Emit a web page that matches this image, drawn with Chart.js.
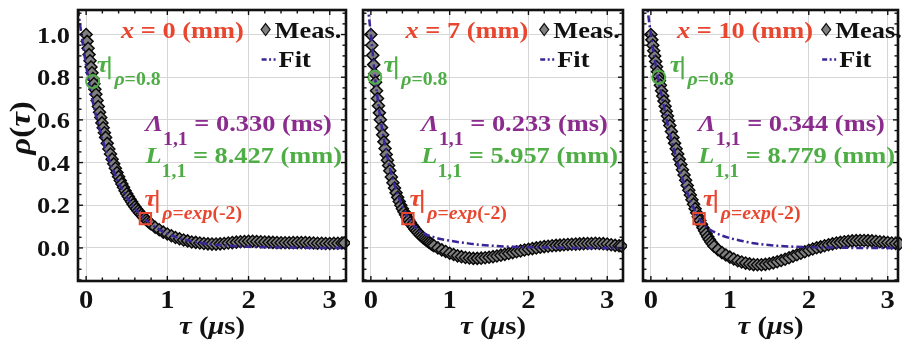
<!DOCTYPE html>
<html lang="en">
<head>
<meta charset="UTF-8">
<title>rho(tau) - três posições</title>
<script src="https://cdn.jsdelivr.net/npm/chart.js"></script>
<style>
    html, body { margin: 0; padding: 0; background: #fff; }
    body { width: 908px; height: 340px; position: relative; overflow: hidden; }
    .painel { position: absolute; top: 0; height: 340px; }
</style>
</head>
<body>
<div class="painel" style="left:0;width:356px"><canvas id="g1"></canvas></div>
<div class="painel" style="left:353px;width:280px"><canvas id="g2"></canvas></div>
<div class="painel" style="left:633px;width:275px"><canvas id="g3"></canvas></div>

<script>
// τ (μs) das medidas, comum aos três painéis
const tau = [0, 0.012, 0.024, 0.036, 0.048, 0.06, 0.072, 0.084, 0.096, 0.108,
    0.12, 0.135, 0.15, 0.165, 0.18, 0.195, 0.21, 0.225, 0.24, 0.26,
    0.28, 0.3, 0.32, 0.34, 0.36, 0.38, 0.4, 0.42, 0.44, 0.46,
    0.48, 0.5, 0.52, 0.54, 0.56, 0.58, 0.6, 0.62, 0.64, 0.66,
    0.68, 0.7, 0.72, 0.74, 0.76, 0.78,
    0.8, 0.85, 0.9, 0.95, 1.0, 1.05, 1.1, 1.15, 1.2, 1.25,
    1.3, 1.35, 1.4, 1.45, 1.5, 1.55, 1.6, 1.65, 1.7, 1.75,
    1.8, 1.85, 1.9, 1.95, 2.0, 2.05, 2.1, 2.15, 2.2, 2.25,
    2.3, 2.35, 2.4, 2.45, 2.5, 2.55, 2.6, 2.65, 2.7, 2.75,
    2.8, 2.85, 2.9, 2.95, 3.0, 3.05, 3.1, 3.15, 3.18];

// medidas (Meas.) x = 0, 7, 10 mm
const meas1 = [1.000, 0.968, 0.936, 0.906, 0.877, 0.848, 0.821, 0.794, 0.769, 0.744,
    0.720, 0.691, 0.663, 0.636, 0.611, 0.586, 0.563, 0.540, 0.518, 0.490,
    0.464, 0.440, 0.416, 0.394, 0.373, 0.353, 0.334, 0.316, 0.300, 0.284,
    0.268, 0.254, 0.241, 0.228, 0.216, 0.204, 0.193, 0.183, 0.173, 0.164,
    0.155, 0.147, 0.139, 0.132, 0.125, 0.118,
    0.112, 0.097, 0.085, 0.074, 0.065, 0.057, 0.049, 0.043, 0.037, 0.033,
    0.028, 0.026, 0.023, 0.021, 0.019, 0.018, 0.018, 0.019, 0.021, 0.023,
    0.025, 0.027, 0.029, 0.030, 0.031, 0.031, 0.030, 0.029, 0.028, 0.027,
    0.026, 0.025, 0.024, 0.024, 0.024, 0.025, 0.025, 0.025, 0.025, 0.024,
    0.023, 0.022, 0.022, 0.021, 0.021, 0.022, 0.022, 0.023, 0.023];
const meas2 = [1.000, 0.950, 0.903, 0.859, 0.816, 0.776, 0.737, 0.700, 0.666, 0.633,
    0.601, 0.564, 0.530, 0.497, 0.466, 0.438, 0.411, 0.386, 0.362, 0.332,
    0.305, 0.281, 0.258, 0.237, 0.218, 0.200, 0.184, 0.169, 0.155, 0.142,
    0.131, 0.119, 0.108, 0.098, 0.088, 0.079, 0.071, 0.063, 0.056, 0.049,
    0.043, 0.037, 0.031, 0.026, 0.021, 0.015,
    0.010, 0.000, -0.009, -0.017, -0.025, -0.031, -0.037, -0.041, -0.045, -0.047,
    -0.049, -0.049, -0.048, -0.046, -0.044, -0.041, -0.038, -0.034, -0.030, -0.026,
    -0.022, -0.018, -0.014, -0.010, -0.006, -0.003, 0.000, 0.003, 0.006, 0.008,
    0.010, 0.012, 0.013, 0.015, 0.016, 0.017, 0.018, 0.019, 0.020, 0.021,
    0.021, 0.022, 0.021, 0.020, 0.018, 0.015, 0.012, 0.010, 0.009];
const meas3 = [1.000, 0.975, 0.950, 0.924, 0.899, 0.874, 0.849, 0.826, 0.804, 0.783,
    0.762, 0.737, 0.712, 0.688, 0.664, 0.641, 0.618, 0.596, 0.574, 0.546,
    0.518, 0.491, 0.465, 0.440, 0.415, 0.391, 0.366, 0.342, 0.317, 0.293,
    0.270, 0.248, 0.226, 0.205, 0.184, 0.165, 0.146, 0.128, 0.111, 0.095,
    0.080, 0.066, 0.052, 0.040, 0.028, 0.018,
    0.008, -0.008, -0.022, -0.033, -0.043, -0.052, -0.060, -0.066, -0.071, -0.075,
    -0.078, -0.079, -0.079, -0.077, -0.074, -0.070, -0.065, -0.059, -0.053, -0.046,
    -0.039, -0.032, -0.025, -0.018, -0.011, -0.005, 0.001, 0.005, 0.010, 0.015,
    0.019, 0.023, 0.026, 0.029, 0.031, 0.033, 0.034, 0.035, 0.035, 0.034,
    0.033, 0.031, 0.029, 0.027, 0.025, 0.023, 0.021, 0.020, 0.019];

// curva de ajuste (Fit)
const tauFit = [-0.1, -0.05, 0, 0.05, 0.1, 0.15, 0.2, 0.25, 0.3, 0.35, 0.4, 0.45, 0.5, 0.55, 0.6, 0.65, 0.7,
    0.8, 0.9, 1.0, 1.1, 1.2, 1.3, 1.4, 1.6, 1.8, 2.0, 2.2, 2.4, 2.6, 2.8, 3.0, 3.2];
const fit1 = [1.12, 0.98, 0.855, 0.745, 0.652, 0.58, 0.51, 0.45, 0.395, 0.35, 0.305, 0.27, 0.238, 0.21, 0.185, 0.163, 0.143,
    0.111, 0.087, 0.067, 0.052, 0.04, 0.031, 0.024, 0.015, 0.009, 0.005, 0.003, 0.002, 0.001, 0, 0, 0];
const fit2 = [1.35, 1.17, 1.0, 0.81, 0.66, 0.54, 0.44, 0.36, 0.295, 0.24, 0.195, 0.155, 0.125, 0.102, 0.085, 0.072, 0.063,
    0.05, 0.041, 0.034, 0.028, 0.023, 0.018, 0.014, 0.009, 0.005, 0.003, 0.002, 0.001, 0, 0, 0, 0];
const fit3 = [1.3, 1.14, 1.0, 0.88, 0.78, 0.69, 0.6, 0.52, 0.45, 0.385, 0.325, 0.27, 0.222, 0.18, 0.145, 0.118, 0.098,
    0.075, 0.058, 0.046, 0.037, 0.029, 0.022, 0.017, 0.01, 0.006, 0.003, 0.002, 0.001, 0, 0, 0, 0];

// pontos marcados: τ|ρ=0.8 e τ|ρ=exp(-2)
const marcaCirculo = [[0.08, 0.78], [0.05, 0.80], [0.10, 0.80]];
const marcaQuadrado = [[0.73, 0.137], [0.47, 0.137], [0.61, 0.137]];

const posicoes = ['0', '7', '10'];
const lambdas = ['0.330', '0.233', '0.344'];
const comprimentos = ['8.427', '5.957', '8.779'];

const cores = { vermelho: '#e8462f', verde: '#4eae45', roxo: '#8b2b8e', ajuste: '#3a2497' };
const SERIF = '"Liberation Serif", "Times New Roman", serif';
const ESTICA = 1.1;
const B24 = 'bold 24px ' + SERIF, I24 = 'italic bold 24px ' + SERIF;
const B18 = 'bold 18px ' + SERIF, I18 = 'italic bold 18px ' + SERIF;
const B26 = 'bold 26px ' + SERIF, I26 = 'italic bold 26px ' + SERIF;
const B30 = 'bold 30px ' + SERIF, I30 = 'italic bold 30px ' + SERIF;

const seg = (t, f, c, dy) => ({ t, f, c, dy });

// escreve texto com trechos de fontes diferentes (itálico, subscrito)
function escreve(ctx, x, y, partes, alinhar, rot) {
    ctx.save();
    ctx.translate(x, y);
    if (rot) ctx.rotate(rot);
    ctx.scale(ESTICA, 1);
    let total = 0;
    partes.forEach(p => { ctx.font = p.f; total += ctx.measureText(p.t).width; });
    let cx = alinhar === 'center' ? -total / 2 : (alinhar === 'right' ? -total : 0);
    ctx.textAlign = 'left';
    ctx.textBaseline = 'alphabetic';
    partes.forEach(p => {
        ctx.font = p.f;
        ctx.fillStyle = p.c;
        ctx.fillText(p.t, cx, p.dy || 0);
        cx += ctx.measureText(p.t).width;
    });
    ctx.restore();
    return total * ESTICA;
}

function rotuloTau(ctx, px, py, sub, cor) {
    const w = escreve(ctx, px, py, [seg('τ', I24, cor)]);
    const bx = px + w + 1;
    ctx.save();
    ctx.strokeStyle = cor;
    ctx.lineWidth = 2.2;
    ctx.beginPath();
    ctx.moveTo(bx, py - 16);
    ctx.lineTo(bx, py + 7);
    ctx.stroke();
    ctx.restore();
    escreve(ctx, bx + 5, py + 13, sub);
}

// moldura, ticks internos, rótulos e anotações
const moldura = {
    id: 'moldura',
    afterDatasetsDraw(chart, args, o) {
        const { ctx, chartArea: a, scales: { x, y } } = chart;
        const i = o.indice;
        ctx.save();
        ctx.strokeStyle = '#111';
        ctx.lineWidth = 1.4;
        const traco = (x1, y1, x2, y2) => { ctx.beginPath(); ctx.moveTo(x1, y1); ctx.lineTo(x2, y2); ctx.stroke(); };
        for (let k = Math.ceil(x.min / 0.2); k * 0.2 <= x.max + 1e-9; k++) {
            const px = x.getPixelForValue(k * 0.2);
            const n = k % 5 === 0 ? 5 : 3.5;
            traco(px, a.bottom, px, a.bottom - n);
            traco(px, a.top, px, a.top + n);
        }
        for (let k = Math.ceil(y.min / 0.05); k * 0.05 <= y.max + 1e-9; k++) {
            const py = y.getPixelForValue(k * 0.05);
            const n = k % 4 === 0 ? 5 : 3.5;
            traco(a.left, py, a.left + n, py);
            traco(a.right, py, a.right - n, py);
        }
        ctx.lineWidth = 2.6;
        ctx.strokeRect(a.left, a.top, a.right - a.left, a.bottom - a.top);
        ctx.restore();

        // rótulos dos eixos
        x.ticks.forEach(t => {
            escreve(ctx, x.getPixelForValue(t.value), 308, [seg(String(t.value), B26, '#111')], 'center');
        });
        escreve(ctx, (a.left + a.right) / 2, 334,
            [seg('τ', I26, '#111'), seg(' (', B26, '#111'), seg('μ', I26, '#111'), seg('s)', B26, '#111')], 'center');
        if (o.eixoY) {
            y.ticks.forEach(t => {
                escreve(ctx, a.left - 8, y.getPixelForValue(t.value) + 8, [seg(t.value.toFixed(1), B24, '#111')], 'right');
            });
            escreve(ctx, 30, 128, [seg('ρ', I30, '#111'), seg('(', B30, '#111'), seg('τ', I30, '#111'), seg(')', B30, '#111')],
                'center', -Math.PI / 2);
        }

        // título do painel e legenda
        const p = o.pos;
        escreve(ctx, x.getPixelForValue(p.titulo), y.getPixelForValue(0.986),
            [seg('x', I24, cores.vermelho), seg(' = ' + posicoes[i] + ' (mm)', B24, cores.vermelho)]);
        const ly = y.getPixelForValue(0.986);
        const lx = x.getPixelForValue(p.legenda);
        ctx.save();
        ctx.fillStyle = '#808080';
        ctx.strokeStyle = '#111';
        ctx.lineWidth = 1.2;
        ctx.beginPath();
        ctx.moveTo(lx, ly - 14); ctx.lineTo(lx + 4.5, ly - 8); ctx.lineTo(lx, ly - 2); ctx.lineTo(lx - 4.5, ly - 8);
        ctx.closePath(); ctx.fill(); ctx.stroke();
        ctx.restore();
        escreve(ctx, lx + 9, ly, [seg('Meas.', B24, '#111')]);
        const fy = y.getPixelForValue(0.846);
        ctx.save();
        ctx.strokeStyle = cores.ajuste;
        ctx.lineWidth = 2.5;
        ctx.setLineDash([5, 2.5, 2, 2.5]);
        ctx.beginPath(); ctx.moveTo(lx - 4, fy - 8); ctx.lineTo(lx + 10, fy - 8); ctx.stroke();
        ctx.restore();
        escreve(ctx, lx + 13, fy, [seg('Fit', B24, '#111')]);

        // τ|ρ=0.8
        rotuloTau(ctx, x.getPixelForValue(p.tau08), y.getPixelForValue(0.823),
            [seg('ρ', I18, cores.verde), seg('=0.8', B18, cores.verde)], cores.verde);
        // Λ e L
        escreve(ctx, x.getPixelForValue(p.lambda), y.getPixelForValue(0.549),
            [seg('Λ', I24, cores.roxo), seg('1,1', B18, cores.roxo, 14), seg(' = ' + lambdas[i] + ' (ms)', B24, cores.roxo)]);
        escreve(ctx, x.getPixelForValue(p.lambda), y.getPixelForValue(0.397),
            [seg('L', I24, cores.verde), seg('1,1', B18, cores.verde, 14), seg(' = ' + comprimentos[i] + ' (mm)', B24, cores.verde)]);
        // τ|ρ=exp(-2)
        rotuloTau(ctx, x.getPixelForValue(p.tauExp), y.getPixelForValue(0.197),
            [seg('ρ', I18, cores.vermelho), seg('=', B18, cores.vermelho), seg('exp', I18, cores.vermelho), seg('(-2)', B18, cores.vermelho)],
            cores.vermelho);
    }
};

const paineis = [
    { canvas: 'g1', meas: meas1, fit: fit1, xMax: 3.2, eixoY: true, larguraY: 78, direita: 4,
        pos: { titulo: 0.43, legenda: 2.21, tau08: 0.13, lambda: 0.73, tauExp: 0.72 } },
    { canvas: 'g2', meas: meas2, fit: fit2, xMax: 3.2, eixoY: false, larguraY: 2, direita: 4,
        pos: { titulo: 0.44, legenda: 2.2, tau08: 0.16, lambda: 0.64, tauExp: 0.49 } },
    { canvas: 'g3', meas: meas3, fit: fit3, xMax: 3.13, eixoY: false, larguraY: 2, direita: 5,
        pos: { titulo: 0.33, legenda: 2.22, tau08: 0.24, lambda: 0.6, tauExp: 0.66 } }
];

paineis.forEach((p, i) => {
    new Chart(document.getElementById(p.canvas), {
        type: 'scatter',
        data: {
            datasets: [
                {
                    label: 'τ|ρ=0.8',
                    data: [{ x: marcaCirculo[i][0], y: marcaCirculo[i][1] }],
                    pointStyle: 'circle', pointRadius: 6.5, borderWidth: 2,
                    borderColor: cores.verde, backgroundColor: 'rgba(0,0,0,0)', order: 1
                },
                {
                    label: 'τ|ρ=exp(-2)',
                    data: [{ x: marcaQuadrado[i][0], y: marcaQuadrado[i][1] }],
                    pointStyle: 'rect', pointRadius: 8, borderWidth: 2,
                    borderColor: cores.vermelho, backgroundColor: 'rgba(0,0,0,0)', order: 1
                },
                {
                    label: 'Fit',
                    data: tauFit.map((t, k) => ({ x: t, y: p.fit[k] })),
                    showLine: true, pointRadius: 0, borderWidth: 2.5,
                    borderColor: cores.ajuste, borderDash: [7, 3, 2, 3],
                    cubicInterpolationMode: 'monotone', order: 2
                },
                {
                    label: 'Meas.',
                    data: tau.map((t, k) => ({ x: t, y: p.meas[k] })),
                    pointStyle: 'rectRot', pointRadius: 6, borderWidth: 1.5,
                    backgroundColor: '#808080', borderColor: '#0a0a0a', clip: 4, order: 3
                }
            ]
        },
        options: {
            responsive: true,
            maintainAspectRatio: false,
            animation: false,
            events: [],
            layout: { padding: { left: 0, right: p.direita, top: 7, bottom: 0 } },
            scales: {
                x: {
                    type: 'linear', min: -0.1, max: p.xMax,
                    ticks: { stepSize: 1, includeBounds: false, display: false },
                    grid: { color: '#d6d6d6', lineWidth: 1, drawTicks: false },
                    border: { display: false },
                    afterFit: s => { s.height = 59; }
                },
                y: {
                    min: -0.155, max: 1.115,
                    ticks: { stepSize: 0.2, includeBounds: false, display: false },
                    grid: { color: '#d6d6d6', lineWidth: 1, drawTicks: false },
                    border: { display: false },
                    afterFit: s => { s.width = p.larguraY; }
                }
            },
            plugins: {
                legend: { display: false },
                tooltip: { enabled: false },
                moldura: { indice: i, eixoY: p.eixoY, pos: p.pos }
            }
        },
        plugins: [moldura]
    });
});
</script>
</body>
</html>
